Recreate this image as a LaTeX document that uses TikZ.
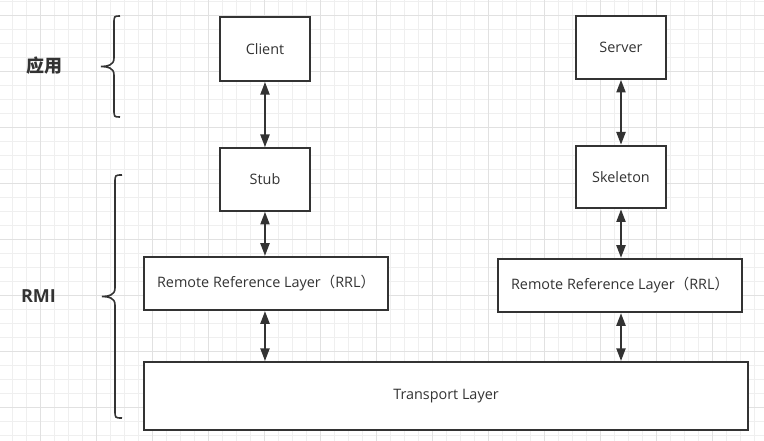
\documentclass[tikz,border=0pt]{standalone}
\usepackage{fontspec}
\setmainfont{Open Sans}
\newfontfamily\cjkfont{Noto Sans CJK SC}
\usepackage{tikz}
\usetikzlibrary{arrows.meta,positioning,calc}
\definecolor{ink}{HTML}{333333}
\definecolor{gridminor}{HTML}{EFEFEF}
\definecolor{gridmajor}{HTML}{E1E1E1}

\tikzset{
  layerbox/.style={draw=ink,line width=1.5pt,fill=white,text=ink,
    font=\fontsize{10.8}{12}\selectfont,inner sep=0pt},
  biarrow/.style={draw=ink,line width=1.5pt,
    {Triangle[length=9.5pt,width=6.8pt]}-{Triangle[length=9.5pt,width=6.8pt]}},
  bracepath/.style={draw=ink,line width=1.2pt},
  sidelabel/.style={text=ink,font=\fontsize{13.5}{15}\selectfont\bfseries}
}

\begin{document}
\begin{tikzpicture}[x=0.75pt,y=-0.75pt]
  \useasboundingbox (0,0) rectangle (764,441);

  % Background grid, major line every fourth step.
  \foreach \gx in {12,26,...,764}{
    \draw[gridminor,line width=0.75pt] (\gx,0) -- (\gx,441);
  }
  \foreach \gy in {2,16,...,441}{
    \draw[gridminor,line width=0.75pt] (0,\gy) -- (764,\gy);
  }
  \foreach \gx in {40,96,...,764}{
    \draw[gridmajor,line width=0.75pt] (\gx,0) -- (\gx,441);
  }
  \foreach \gy in {16,72,...,441}{
    \draw[gridmajor,line width=0.75pt] (0,\gy) -- (764,\gy);
  }

  % Boxes on the client side and the server side.
  \node[layerbox,minimum width=67.5pt,minimum height=48pt] (client) at (265,49) {Client};
  \node[layerbox,minimum width=67.5pt,minimum height=47pt] (server) at (621,47.5) {Server};
  \node[layerbox,minimum width=67.5pt,minimum height=47pt] (stub) at (265,179.5) {Stub};
  \node[layerbox,minimum width=67.5pt,minimum height=47pt] (skeleton) at (621,177) {Skeleton};
  \node[layerbox,minimum width=183pt,minimum height=40pt] (rrlL) at (266,283.5)
    {Remote Reference Layer{\cjkfont （}RRL{\cjkfont ）}};
  \node[layerbox,minimum width=183pt,minimum height=40pt] (rrlR) at (620,285.5)
    {Remote Reference Layer{\cjkfont （}RRL{\cjkfont ）}};
  \node[layerbox,minimum width=453pt,minimum height=51pt] (transport) at (446,396)
    {Transport Layer};

  % Two-way links between the layers.
  \draw[biarrow] (client) -- (stub);
  \draw[biarrow] (stub) -- (stub |- rrlL.north);
  \draw[biarrow] (stub |- rrlL.south) -- (stub |- transport.north);
  \draw[biarrow] (server) -- (skeleton);
  \draw[biarrow] (skeleton) -- (skeleton |- rrlR.north);
  \draw[biarrow] (skeleton |- rrlR.south) -- (skeleton |- transport.north);

  % Curly braces grouping the layers.
  \draw[bracepath] (120,16) .. controls (114,16) .. (114,24) -- (114,58)
    .. controls (114,65) and (108,66.5) .. (101,66.5)
    .. controls (108,66.5) and (114,68) .. (114,75) -- (114,109)
    .. controls (114,117) .. (120,117);
  \draw[bracepath] (122,175) .. controls (115,175) .. (115,183) -- (115,288)
    .. controls (115,295) and (109,296.5) .. (102,296.5)
    .. controls (109,296.5) and (115,298) .. (115,305) -- (115,410)
    .. controls (115,418) .. (122,418);

  \node[sidelabel,font=\cjkfont\fontsize{13.5}{15}\selectfont\bfseries] (applabel) at (44.5,66) {应用};
  \node[sidelabel] (rmilabel) at (38.5,296) {RMI};
\end{tikzpicture}
\end{document}
